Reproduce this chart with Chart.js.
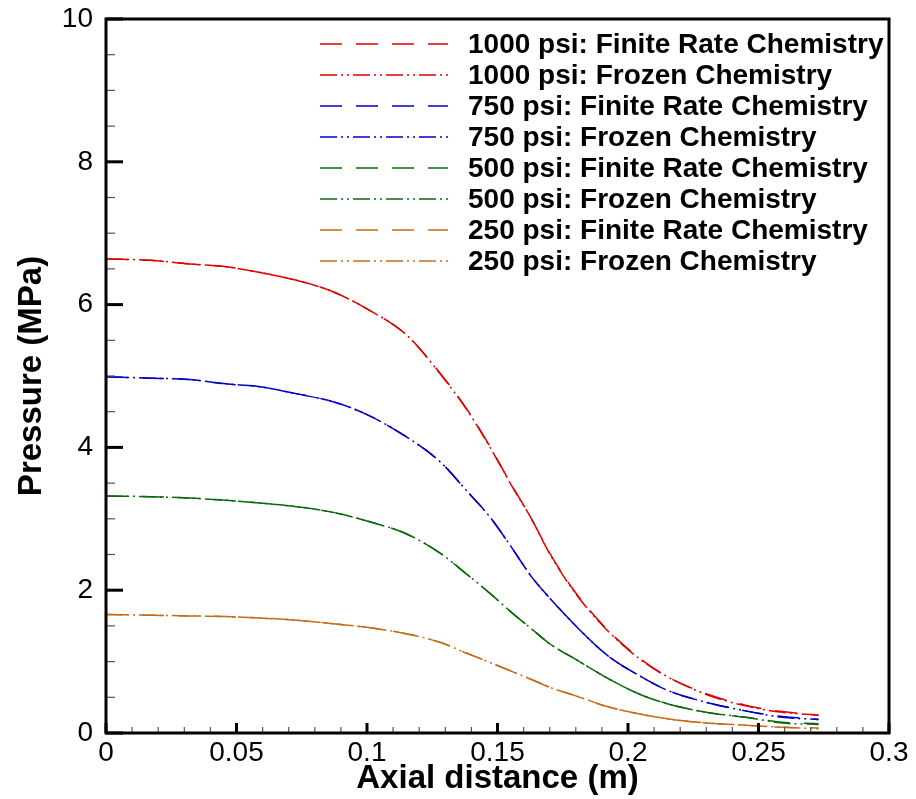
<!DOCTYPE html>
<html>
<head>
<meta charset="utf-8">
<script src="https://cdn.jsdelivr.net/npm/chart.js@4"></script>
<style>
  html, body { margin: 0; padding: 0; background: #fff; }
  #wrap { width: 916px; height: 799px; }
</style>
</head>
<body>
<div id="wrap"><canvas id="chart" width="916" height="799"></canvas></div>
<script>
// axial positions (m) where the curves were read
const axial = [0, 0.017, 0.032, 0.046, 0.059, 0.073, 0.087, 0.1, 0.115, 0.128, 0.138, 0.147, 0.155, 0.163, 0.17, 0.18, 0.192, 0.204, 0.215, 0.23, 0.245, 0.259, 0.273];

// pressure (MPa)
const p1000Finite = [6.64, 6.62, 6.57, 6.53, 6.45, 6.34, 6.18, 5.94, 5.58, 5.04, 4.55, 4.02, 3.50, 3.00, 2.52, 1.96, 1.45, 1.06, 0.79, 0.55, 0.39, 0.30, 0.25];
const p1000Frozen = [6.64, 6.62, 6.57, 6.53, 6.45, 6.34, 6.18, 5.94, 5.58, 5.03, 4.54, 4.01, 3.49, 3.00, 2.51, 1.95, 1.44, 1.05, 0.79, 0.54, 0.38, 0.29, 0.25];
const p750Finite = [4.99, 4.97, 4.95, 4.89, 4.85, 4.75, 4.64, 4.46, 4.15, 3.80, 3.40, 3.03, 2.62, 2.19, 1.89, 1.50, 1.09, 0.81, 0.60, 0.43, 0.31, 0.23, 0.19];
const p750Frozen = [4.99, 4.97, 4.95, 4.89, 4.85, 4.75, 4.64, 4.46, 4.15, 3.80, 3.40, 3.03, 2.62, 2.19, 1.89, 1.50, 1.09, 0.81, 0.60, 0.43, 0.31, 0.22, 0.19];
const p500Finite = [3.32, 3.31, 3.29, 3.26, 3.22, 3.17, 3.09, 2.97, 2.79, 2.52, 2.23, 1.96, 1.70, 1.46, 1.25, 1.03, 0.77, 0.55, 0.41, 0.29, 0.22, 0.15, 0.13];
const p500Frozen = [3.32, 3.31, 3.29, 3.26, 3.22, 3.17, 3.09, 2.97, 2.79, 2.52, 2.23, 1.96, 1.70, 1.46, 1.25, 1.03, 0.77, 0.55, 0.41, 0.29, 0.22, 0.14, 0.12];
const p250Finite = [1.66, 1.65, 1.64, 1.63, 1.61, 1.58, 1.53, 1.48, 1.39, 1.27, 1.12, 0.99, 0.87, 0.75, 0.64, 0.52, 0.37, 0.27, 0.20, 0.14, 0.11, 0.08, 0.07];
const p250Frozen = [1.66, 1.65, 1.64, 1.63, 1.61, 1.58, 1.53, 1.48, 1.39, 1.27, 1.12, 0.99, 0.87, 0.75, 0.64, 0.52, 0.37, 0.27, 0.20, 0.14, 0.11, 0.08, 0.06];

const seriesLabels = [
  '1000 psi: Finite Rate Chemistry', '1000 psi: Frozen Chemistry',
  '750 psi: Finite Rate Chemistry', '750 psi: Frozen Chemistry',
  '500 psi: Finite Rate Chemistry', '500 psi: Frozen Chemistry',
  '250 psi: Finite Rate Chemistry', '250 psi: Frozen Chemistry'
];
const seriesValues = [p1000Finite, p1000Frozen, p750Finite, p750Frozen, p500Finite, p500Frozen, p250Finite, p250Frozen];

const xTicks = [0, 0.05, 0.1, 0.15, 0.2, 0.25, 0.3];
const yTicks = [0, 2, 4, 6, 8, 10];

const colors = ['#e00000', '#0000c8', '#0b6a0b', '#c46c18'];
const finiteDash = [22, 14];
const frozenDash = [17, 4, 2, 4, 2, 4];

const datasets = seriesValues.map((vals, i) => ({
  label: seriesLabels[i],
  data: vals.map((v, j) => ({ x: axial[j], y: v })),
  borderColor: colors[Math.floor(i / 2)],
  borderWidth: 1.5,
  borderDash: i % 2 === 0 ? finiteDash : frozenDash,
  pointRadius: 0,
  fill: false,
  showLine: true,
  cubicInterpolationMode: 'monotone'
}));

// frame, inward tick marks and the legend inside the plot
const framePlugin = {
  id: 'frame',
  afterDatasetsDraw(chart) {
    const ctx = chart.ctx;
    const a = chart.chartArea;
    const x = chart.scales.x;
    const y = chart.scales.y;
    ctx.save();
    ctx.setLineDash([]);
    // x ticks every 0.01, major every 0.05
    for (let k = 0; k <= 30; k++) {
      const px = x.getPixelForValue(k / 100);
      const major = k % 5 === 0;
      ctx.beginPath();
      ctx.strokeStyle = major ? '#000' : '#555';
      ctx.lineWidth = major ? 3 : 1.2;
      ctx.moveTo(px, a.bottom);
      ctx.lineTo(px, a.bottom - (major ? 10 : 6));
      ctx.stroke();
    }
    // y ticks every 0.5, major every 2
    for (let k = 0; k <= 20; k++) {
      const py = y.getPixelForValue(k / 2);
      const major = k % 4 === 0;
      ctx.beginPath();
      ctx.strokeStyle = major ? '#000' : '#555';
      ctx.lineWidth = major ? 3 : 1.2;
      ctx.moveTo(a.left, py);
      ctx.lineTo(a.left + (major ? 17 : 9), py);
      ctx.stroke();
    }
    ctx.strokeStyle = '#000';
    ctx.lineWidth = 3;
    ctx.strokeRect(a.left, a.top, a.right - a.left, a.bottom - a.top);

    // legend
    ctx.font = 'bold 28px "Liberation Sans", Arial, sans-serif';
    ctx.textBaseline = 'middle';
    ctx.textAlign = 'left';
    chart.data.datasets.forEach((ds, i) => {
      const ly = 44 + i * 31;
      ctx.beginPath();
      ctx.setLineDash(ds.borderDash);
      ctx.strokeStyle = ds.borderColor;
      ctx.lineWidth = 1.5;
      ctx.moveTo(320, ly);
      ctx.lineTo(448, ly);
      ctx.stroke();
      ctx.setLineDash([]);
      ctx.fillStyle = '#000';
      ctx.fillText(ds.label, 468, ly + 1);
    });
    ctx.restore();
  }
};

const tickFont = { family: '"Liberation Sans", Arial, sans-serif', size: 28 };
const titleFont = { family: '"Liberation Sans", Arial, sans-serif', size: 33, weight: 'bold' };

new Chart(document.getElementById('chart').getContext('2d'), {
  type: 'line',
  data: { datasets: datasets },
  options: {
    responsive: false,
    animation: false,
    layout: { padding: { top: 19, right: 27, left: 0, bottom: 0 } },
    plugins: { legend: { display: false }, tooltip: { enabled: false } },
    scales: {
      x: {
        type: 'linear',
        min: 0,
        max: 0.3,
        grid: { display: false, drawTicks: false },
        border: { display: false },
        afterBuildTicks: s => { s.ticks = xTicks.map(v => ({ value: v })); },
        afterFit: s => { s.height = 66; s.paddingLeft = 0; s.paddingRight = 0; },
        ticks: {
          color: '#000',
          font: tickFont,
          padding: 3,
          maxRotation: 0,
          callback: v => String(+v.toFixed(2))
        },
        title: { display: true, text: 'Axial distance (m)', color: '#000', font: titleFont, padding: { top: 0, bottom: 0 } }
      },
      y: {
        type: 'linear',
        min: 0,
        max: 10,
        grid: { display: false, drawTicks: false },
        border: { display: false },
        afterBuildTicks: s => { s.ticks = yTicks.map(v => ({ value: v })); },
        afterFit: s => { s.width = 106; s.paddingTop = 0; s.paddingBottom = 0; },
        ticks: { color: '#000', font: tickFont, padding: 13 },
        title: { display: true, text: 'Pressure (MPa)', color: '#000', font: titleFont, padding: { top: 12, bottom: 0 } }
      }
    }
  },
  plugins: [framePlugin]
});
</script>
</body>
</html>
